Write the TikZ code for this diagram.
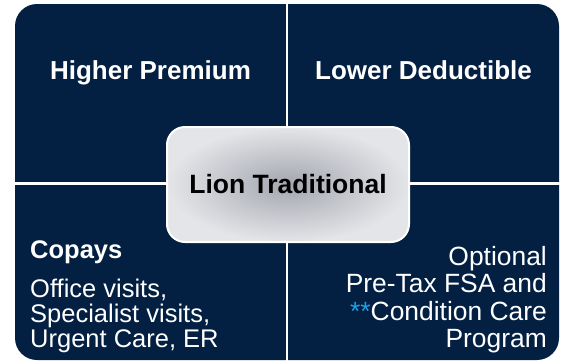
\documentclass[tikz,border=0pt]{standalone}
\usepackage{fontspec}
\setmainfont{Liberation Sans}
\definecolor{navy}{RGB}{3,31,66}
\definecolor{starblue}{RGB}{30,160,230}
\definecolor{boxin}{RGB}{163,166,175}
\definecolor{boxout}{RGB}{228,229,232}
\begin{document}
\begin{tikzpicture}[x=1pt,y=-1pt,
  head/.style={font=\fontsize{26}{26}\selectfont\bfseries, text=white, inner sep=0pt, anchor=base},
  leftline/.style={font=\fontsize{25.5}{25}\selectfont, text=white, inner sep=0pt, anchor=base west},
  rightline/.style={font=\fontsize{26.4}{27}\selectfont, text=white, inner sep=0pt, anchor=base east},
  centerbox/.style={draw=white, line width=2pt, rounded corners=18pt, inner color=boxin, outer color=boxout,
    minimum width=242pt, minimum height=115pt, inner sep=0pt,
    font=\fontsize{26.5}{26.5}\selectfont\bfseries, text=black}]
\useasboundingbox (0,0) rectangle (565,362);
\fill[white] (0,0) rectangle (565,362);
% quadrants
\fill[navy, rounded corners=22pt] (15,4) rectangle (559,360);
\fill[white] (285.8,0) rectangle (288.4,362);
\fill[white] (0,182.4) rectangle (565,185.0);
% headers
\node[head] (hp) at (150.5,79) {Higher Premium};
\node[head] (ld) at (423.5,79) {Lower Deductible};
% center
\node[centerbox] (lt) at (288,184.5) {Lion Traditional};
% bottom left
\node[leftline, font=\fontsize{25.5}{25}\selectfont\bfseries] (cp) at (30,258) {Copays};
\node[leftline] (ov) at (30,297) {Office visits,};
\node[leftline] (sv) at (30,322) {Specialist visits,};
\node[leftline] (uc) at (30,347) {Urgent Care, ER};
% bottom right
\node[rightline] (op) at (547,265) {Optional};
\node[rightline] (fsa) at (547,292.5) {Pre-Tax FSA and};
\node[rightline] (cc) at (547,320) {{\color{starblue}**}Condition Care};
\node[rightline] (pg) at (547,347.5) {Program};
\end{tikzpicture}
\end{document}
